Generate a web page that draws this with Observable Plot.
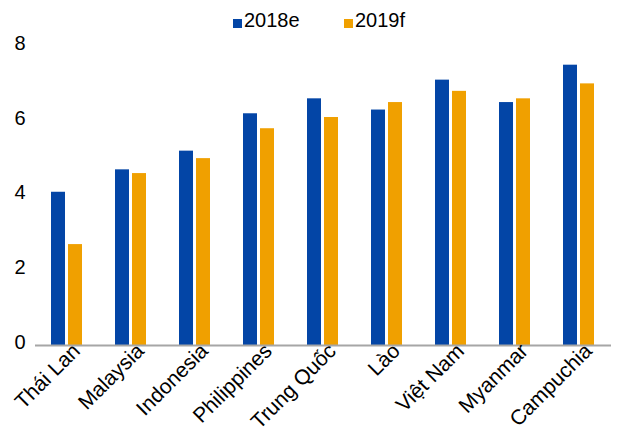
<!DOCTYPE html>
<html>
<head>
<meta charset="utf-8">
<script src="https://cdn.jsdelivr.net/npm/d3@7"></script>
<script src="https://cdn.jsdelivr.net/npm/@observablehq/plot@0.6"></script>
<style>
  html, body { margin: 0; padding: 0; background: #fff; }
  body { width: 619px; height: 437px; overflow: hidden; position: relative; font-family: "Liberation Sans", Arial, sans-serif; }
  #legend { position: absolute; left: 0; top: 0; width: 619px; height: 40px; font-size: 20px; color: #000; z-index: 1; }
  .item { position: absolute; top: 9px; display: flex; align-items: center; white-space: nowrap; line-height: 23px; }
  .swatch { width: 9px; height: 9px; margin-right: 2px; margin-top: 6px; }
  #chart svg { background: transparent; }
</style>
</head>
<body>
<div id="legend"></div>
<div id="chart"></div>
<script>
// GDP growth, % — ASEAN economies and China
const countries = ["Thái Lan", "Malaysia", "Indonesia", "Philippines", "Trung Quốc", "Lào", "Việt Nam", "Myanmar", "Campuchia"];
const series = ["2018e", "2019f"];
const growth2018 = [4.1, 4.7, 5.2, 6.2, 6.6, 6.3, 7.1, 6.5, 7.5];
const growth2019 = [2.7, 4.6, 5.0, 5.8, 6.1, 6.5, 6.8, 6.6, 7.0];
const yTicks = [0, 2, 4, 6, 8];
const colors = ["#0345a6", "#f0a000"];

const data = countries.flatMap((c, i) => [
  {country: c, series: series[0], value: growth2018[i]},
  {country: c, series: series[1], value: growth2019[i]}
]);

// legend
const legend = document.getElementById("legend");
const legendX = [233, 344];
series.forEach((s, i) => {
  const item = document.createElement("div");
  item.className = "item";
  item.style.left = legendX[i] + "px";
  item.innerHTML = `<span class="swatch" style="background:${colors[i]}"></span><span>${s}</span>`;
  legend.appendChild(item);
});

const chart = Plot.plot({
  width: 619,
  height: 437,
  marginLeft: 32,
  marginRight: 5,
  marginTop: 46,
  marginBottom: 92,
  style: {fontFamily: "'Liberation Sans', Arial, sans-serif", fontSize: "20px", color: "#000", background: "transparent"},
  fx: {domain: countries, padding: 0, label: null},
  x: {domain: series, paddingInner: 0.167, paddingOuter: 0.88, axis: null},
  y: {domain: [0, 8], label: null},
  color: {domain: series, range: colors},
  marks: [
    Plot.barY(data, {fx: "country", x: "series", y: "value", fill: "series"}),
    Plot.ruleY([0], {stroke: "#a6a6a6", strokeWidth: 2}),
    Plot.axisY({ticks: yTicks, tickSize: 0, tickPadding: 10, label: null, dy: -3, fontSize: 20}),
    Plot.axisFx({tickSize: 0, tickRotate: -45, tickPadding: 2, dx: 9, label: null, fontSize: 21, anchor: "bottom"})
  ]
});
document.getElementById("chart").appendChild(chart);
</script>
</body>
</html>
